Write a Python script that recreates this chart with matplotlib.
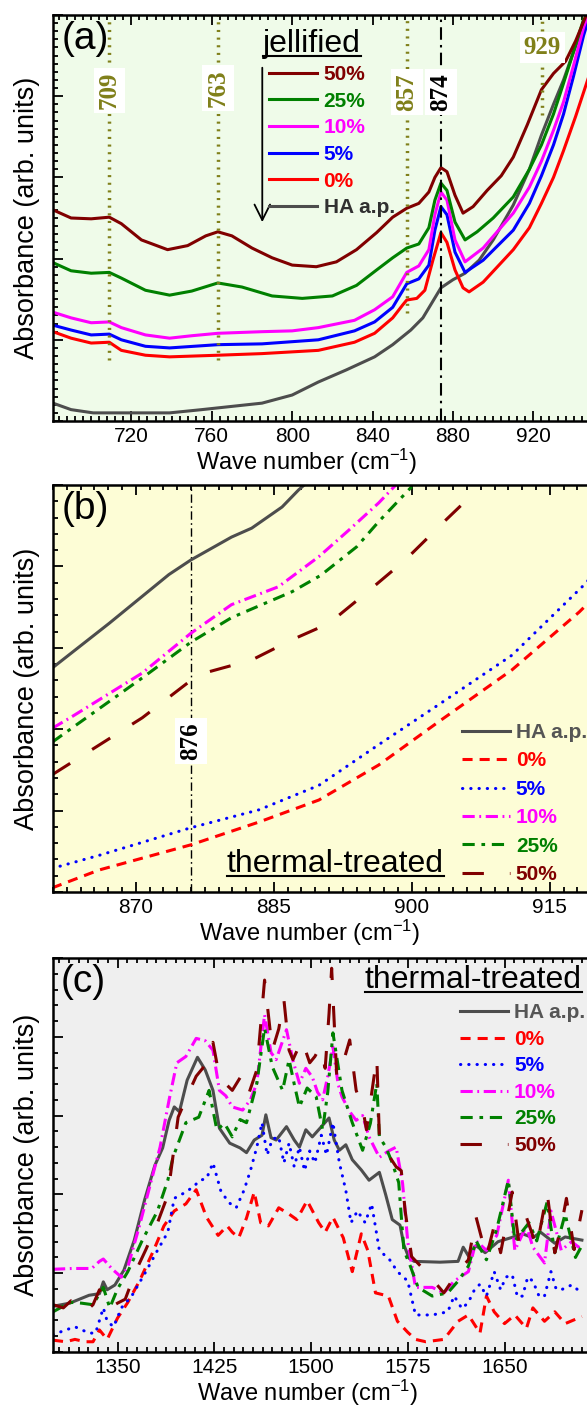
"""FTIR absorbance panels: jellified vs thermal-treated HA samples."""

import matplotlib.pyplot as plt
from matplotlib.lines import Line2D
from matplotlib.ticker import MultipleLocator

plt.rcParams["font.family"] = "Liberation Sans"
plt.rcParams["mathtext.fontset"] = "custom"
plt.rcParams["mathtext.rm"] = "Liberation Sans"
plt.rcParams["mathtext.it"] = "Liberation Sans:italic"

LABELS = ["HA a.p.", "0%", "5%", "10%", "25%", "50%"]
COLORS = ["#4d4d4d", "#ff0000", "#0000ff", "#ff00ff", "#008000", "#800000"]
OLIVE = "#80801a"

# ---- panel (a): jellified ----
a_wn_ha = [681, 690, 701, 720, 739, 755, 770, 785, 800, 813, 827, 841, 850, 859, 865, 874, 880,
           886, 893, 900, 910, 918, 924, 930, 935, 940, 945, 950]
a_abs_ha = [0.22, 0.14, 0.10, 0.10, 0.10, 0.14, 0.18, 0.22, 0.32, 0.48, 0.63, 0.79, 0.94, 1.12,
            1.27, 1.64, 1.74, 1.82, 1.98, 2.23, 2.66, 3.10, 3.52, 3.90, 4.20, 4.55, 4.88, 5.20]
a_wn_0 = [681, 690, 700, 709, 715, 727, 739, 763, 785, 813, 831, 841, 850, 855, 857, 862, 866,
          870, 874, 877, 881, 885, 888, 895, 910, 918, 924, 930, 935, 941, 947, 955]
a_abs_0 = [1.10, 1.02, 0.96, 0.97, 0.87, 0.81, 0.79, 0.81, 0.83, 0.87, 0.97, 1.08, 1.27, 1.43,
           1.49, 1.51, 1.61, 1.98, 2.32, 2.20, 1.86, 1.64, 1.59, 1.71, 2.11, 2.38, 2.68, 3.00,
           3.33, 3.75, 4.20, 4.80]
a_wn_5 = [681, 690, 700, 709, 715, 727, 739, 763, 785, 813, 831, 841, 850, 857, 863, 868, 871,
          874, 877, 881, 886, 895, 910, 918, 924, 930, 935, 940, 945, 950]
a_abs_5 = [1.18, 1.12, 1.06, 1.07, 1.00, 0.92, 0.90, 0.94, 0.95, 1.00, 1.11, 1.22, 1.40, 1.69,
           1.75, 1.92, 2.35, 2.64, 2.54, 2.08, 1.83, 1.98, 2.35, 2.68, 3.02, 3.40, 3.78, 4.25,
           4.75, 5.15]
a_wn_10 = [681, 690, 700, 709, 715, 727, 739, 750, 763, 785, 800, 813, 831, 841, 850, 857, 863,
           868, 871, 874, 877, 881, 886, 895, 910, 918, 924, 930, 935, 940, 945, 950]
a_abs_10 = [1.34, 1.27, 1.21, 1.22, 1.15, 1.06, 1.02, 1.05, 1.08, 1.10, 1.11, 1.15, 1.24, 1.37,
            1.53, 1.83, 1.91, 2.11, 2.54, 2.82, 2.72, 2.23, 1.96, 2.13, 2.56, 2.88, 3.20, 3.58,
            3.93, 4.38, 4.85, 5.20]
a_wn_25 = [681, 690, 700, 709, 715, 727, 739, 750, 763, 775, 790, 805, 820, 832, 842, 850, 857,
           863, 868, 871, 874, 877, 881, 886, 892, 900, 910, 918, 924, 930, 935, 940, 945]
a_abs_25 = [1.95, 1.85, 1.82, 1.83, 1.76, 1.61, 1.55, 1.60, 1.70, 1.65, 1.54, 1.51, 1.54, 1.67,
            1.86, 2.01, 2.13, 2.18, 2.38, 2.72, 2.93, 2.84, 2.45, 2.23, 2.33, 2.50, 2.76, 3.10,
            3.40, 3.78, 4.16, 4.55, 4.95]
a_wn_50 = [681, 690, 700, 709, 715, 725, 738, 748, 757, 763, 770, 780, 790, 800, 812, 822, 832,
           842, 850, 857, 863, 868, 871, 874, 877, 881, 885, 890, 897, 904, 910, 917, 924, 930,
           936, 941, 946]
a_abs_50 = [2.60, 2.50, 2.49, 2.51, 2.43, 2.23, 2.11, 2.16, 2.28, 2.33, 2.28, 2.13, 2.01, 1.92,
            1.90, 1.96, 2.11, 2.32, 2.51, 2.62, 2.68, 2.82, 3.00, 3.12, 3.07, 2.78, 2.56, 2.64,
            2.84, 3.02, 3.25, 3.65, 4.08, 4.28, 4.43, 4.68, 4.98]
a_peaks = [709, 763, 857]
a_peak_floor = [0.75, 0.75, 1.33]
a_peak_label_y = [4.07, 4.10, 4.05]
a_main_peak = 874
a_side_peak = 929
a_side_peak_drawn = 924.5  # where the 929 marker sits on the printed axis

# ---- panel (b): thermal-treated, 861-925 cm-1 ----
b_wn_ha = [860.9, 867.1, 873.6, 876.0, 880.4, 882.6, 885.9, 887.7, 888.8]
b_abs_ha = [2.75, 3.30, 3.90, 4.08, 4.36, 4.47, 4.73, 4.94, 5.05]
b_wn_0 = [860.9, 866.0, 876.0, 883.4, 889.9, 896.4, 902.9, 910.9, 918.2, 925.0]
b_abs_0 = [0.05, 0.27, 0.58, 0.86, 1.13, 1.56, 2.09, 2.73, 3.44, 4.20]
b_wn_5 = [860.9, 866.0, 876.0, 883.4, 889.9, 896.4, 902.9, 910.9, 918.7, 925.0]
b_abs_5 = [0.29, 0.45, 0.79, 1.01, 1.31, 1.81, 2.30, 2.91, 3.77, 4.55]
b_wn_10 = [860.9, 863.0, 870.7, 876.0, 880.4, 885.5, 889.9, 893.2, 896.4, 898.6]
b_abs_10 = [2.01, 2.15, 2.69, 3.18, 3.53, 3.75, 4.12, 4.45, 4.78, 5.04]
b_wn_25 = [860.9, 870.7, 876.0, 880.4, 887.0, 890.1, 894.0, 896.4, 900.0]
b_abs_25 = [1.84, 2.63, 3.07, 3.37, 3.69, 3.89, 4.24, 4.55, 4.98]
b_wn_50 = [860.9, 870.7, 876.8, 882.6, 887.0, 891.0, 895.0, 899.3, 903.7, 907.3]
b_abs_50 = [1.44, 2.14, 2.67, 2.85, 3.10, 3.30, 3.67, 4.08, 4.57, 4.96]
b_peak = 876

# ---- panel (c): thermal-treated, 1300-1715 cm-1 ----
c_wn_ha = [1300, 1313, 1328, 1336, 1339, 1342, 1348, 1355, 1363, 1371, 1379, 1385, 1390, 1394,
           1398, 1404, 1412, 1418, 1424, 1429, 1437, 1445, 1450, 1456, 1462, 1465, 1469, 1473,
           1481, 1487, 1491, 1496, 1501, 1507, 1514, 1518, 1522, 1527, 1532, 1539, 1545, 1553,
           1558, 1563, 1569, 1572, 1576, 1580, 1600, 1614, 1618, 1622, 1628, 1635, 1645, 1655,
           1664, 1672, 1678, 1689, 1697, 1710]
c_abs_ha = [0.58, 0.62, 0.72, 0.74, 0.89, 0.79, 0.85, 1.04, 1.42, 1.93, 2.37, 2.59, 2.94, 3.11,
            3.05, 3.45, 3.74, 3.58, 3.32, 2.84, 2.65, 2.59, 2.53, 2.69, 2.75, 3.01, 2.72, 2.69,
            2.86, 2.69, 2.60, 2.82, 2.73, 2.84, 2.97, 2.69, 2.56, 2.63, 2.44, 2.31, 2.18, 2.28,
            1.99, 1.68, 1.61, 1.36, 1.19, 1.15, 1.14, 1.15, 1.33, 1.22, 1.35, 1.26, 1.40, 1.45,
            1.50, 1.45, 1.52, 1.38, 1.46, 1.42]
c_wn_0 = [1300, 1310, 1317, 1325, 1331, 1336, 1342, 1350, 1358, 1367, 1378, 1386, 1394, 1403,
          1411, 1419, 1428, 1435, 1439, 1444, 1450, 1456, 1461, 1467, 1475, 1483, 1489, 1497,
          1506, 1511, 1517, 1525, 1532, 1539, 1544, 1550, 1560, 1567, 1575, 1581, 1589, 1603,
          1614, 1622, 1631, 1636, 1642, 1650, 1658, 1667, 1672, 1681, 1689, 1697, 1710]
c_abs_0 = [0.15, 0.13, 0.16, 0.13, 0.13, 0.28, 0.16, 0.43, 0.63, 0.90, 1.29, 1.60, 1.79, 1.88,
           2.06, 1.71, 1.48, 1.60, 1.52, 1.45, 1.70, 2.03, 1.64, 1.60, 1.83, 1.75, 1.68, 1.92,
           1.64, 1.52, 1.71, 1.45, 1.02, 1.50, 1.29, 0.75, 0.71, 0.39, 0.25, 0.16, 0.13, 0.16,
           0.39, 0.47, 0.24, 0.71, 0.51, 0.36, 0.47, 0.30, 0.56, 0.39, 0.51, 0.36, 0.45]
c_wn_5 = [1300, 1310, 1317, 1328, 1333, 1339, 1342, 1347, 1353, 1361, 1372, 1381, 1389, 1394,
          1403, 1409, 1414, 1419, 1424, 1430, 1436, 1442, 1448, 1453, 1458, 1462, 1466, 1470,
          1475, 1479, 1483, 1487, 1491, 1495, 1499, 1503, 1508, 1512, 1517, 1522, 1527, 1531,
          1536, 1542, 1547, 1553, 1561, 1567, 1575, 1581, 1594, 1606, 1611, 1617, 1622, 1627,
          1631, 1636, 1642, 1647, 1651, 1656, 1660, 1664, 1668, 1672, 1677, 1681, 1686, 1690,
          1694, 1702, 1710]
c_abs_5 = [0.22, 0.28, 0.32, 0.24, 0.24, 0.56, 0.39, 0.32, 0.56, 0.71, 1.02, 1.29, 1.52, 1.95,
           2.03, 2.10, 2.18, 2.20, 2.40, 2.05, 1.90, 1.83, 2.05, 2.30, 2.60, 2.91, 2.50, 2.70,
           2.73, 2.40, 2.65, 2.35, 2.60, 2.30, 2.55, 2.40, 2.75, 2.50, 2.91, 2.40, 2.05, 1.64,
           1.79, 1.64, 1.88, 1.29, 1.17, 1.02, 0.90, 0.47, 0.47, 0.51, 0.71, 0.55, 0.63, 0.80,
           0.86, 0.71, 1.02, 0.79, 0.95, 0.98, 0.70, 0.71, 0.95, 0.90, 0.70, 0.71, 1.02, 0.80,
           0.79, 0.85, 0.75]
c_wn_10 = [1300, 1315, 1330, 1336, 1339, 1346, 1353, 1358, 1367, 1375, 1383, 1390, 1396, 1403,
           1411, 1418, 1424, 1429, 1434, 1439, 1447, 1453, 1458, 1464, 1469, 1473, 1477, 1481,
           1486, 1491, 1496, 1501, 1505, 1509, 1513, 1517, 1521, 1524, 1530, 1535, 1540, 1545,
           1553, 1560, 1566, 1571, 1575, 1581, 1594, 1603, 1611, 1622, 1628, 1636, 1644, 1653,
           1658, 1667, 1672, 1681, 1686, 1694, 1702, 1710]
c_abs_10 = [1.05, 1.06, 1.06, 1.15, 1.18, 1.05, 0.95, 1.08, 1.60, 2.10, 2.60, 3.20, 3.67, 3.75,
            3.98, 3.95, 3.83, 3.32, 3.25, 3.11, 3.07, 3.20, 3.41, 4.28, 3.80, 3.71, 3.90, 4.09,
            3.70, 3.41, 3.60, 3.49, 3.30, 3.20, 3.50, 3.87, 3.40, 3.24, 3.05, 2.94, 3.00, 2.73,
            2.47, 2.55, 2.60, 2.14, 1.40, 0.82, 0.82, 0.75, 0.90, 1.02, 1.41, 1.29, 1.48, 2.18,
            1.29, 1.60, 1.33, 1.13, 1.79, 1.29, 1.40, 1.30]
c_wn_25 = [1300, 1310, 1314, 1322, 1331, 1339, 1344, 1350, 1358, 1369, 1381, 1389, 1393, 1403,
           1413, 1421, 1427, 1433, 1439, 1445, 1450, 1458, 1464, 1470, 1478, 1483, 1487, 1491,
           1497, 1504, 1509, 1513, 1517, 1524, 1532, 1540, 1546, 1551, 1553, 1558, 1563, 1568,
           1572, 1577, 1583, 1594, 1606, 1614, 1622, 1628, 1636, 1644, 1653, 1658, 1669, 1675,
           1683, 1689, 1697, 1705, 1710]
c_abs_25 = [0.51, 0.60, 0.63, 0.62, 0.60, 0.82, 0.56, 0.80, 1.02, 1.41, 1.79, 2.18, 2.47, 2.91,
            2.98, 3.32, 2.82, 2.90, 2.73, 2.95, 2.91, 3.41, 4.11, 3.62, 3.32, 3.71, 3.40, 3.11,
            3.35, 3.24, 2.82, 3.30, 4.05, 3.32, 2.91, 2.56, 2.90, 3.41, 2.73, 2.60, 2.40, 2.15,
            1.29, 1.09, 0.82, 0.71, 0.75, 0.90, 1.09, 1.41, 1.17, 1.56, 2.18, 1.41, 1.64, 1.41,
            1.90, 1.26, 1.75, 1.20, 1.35]
c_wn_50 = [1300, 1308, 1314, 1320, 1325, 1331, 1336, 1344, 1350, 1356, 1364, 1372, 1381, 1389,
           1397, 1406, 1411, 1416, 1420, 1424, 1429, 1434, 1439, 1445, 1451, 1458, 1464, 1470,
           1475, 1479, 1483, 1486, 1493, 1499, 1503, 1507, 1511, 1514, 1516, 1520, 1524, 1530,
           1535, 1540, 1543, 1551, 1553, 1558, 1562, 1566, 1570, 1573, 1578, 1589, 1603, 1614,
           1622, 1628, 1636, 1642, 1647, 1656, 1661, 1667, 1675, 1683, 1689, 1694, 1698, 1704,
           1710]
c_abs_50 = [0.60, 0.56, 0.65, 0.60, 0.51, 0.60, 0.79, 0.56, 0.62, 0.67, 1.02, 1.30, 1.64, 1.99,
            2.98, 3.32, 3.50, 3.60, 3.75, 3.93, 3.49, 3.40, 3.32, 3.48, 3.24, 3.58, 4.72, 3.83,
            4.10, 4.47, 3.83, 3.71, 3.96, 3.67, 3.75, 3.87, 3.60, 4.30, 4.87, 3.49, 3.62, 3.96,
            3.32, 3.10, 2.82, 3.74, 2.73, 2.60, 2.45, 2.35, 2.30, 1.79, 1.21, 1.02, 0.75, 1.02,
            1.17, 1.71, 1.21, 1.60, 1.26, 2.03, 1.41, 1.71, 1.33, 2.03, 1.26, 1.60, 1.95, 1.30,
            1.80]

# line styles for the thermal-treated panels (dash lengths in linewidths)
TT_DASHES = [None, (3.3, 2.3), (0.1, 2.6), (4, 1.5, 0.6, 1.5), (4, 2.2, 1.2, 2.2), (7, 8.5)]

FIG_W, FIG_H = 587, 1423


def style_axis(ax, face, xlim, xmajor, xminor, yminor, label_x):
    ax.set_facecolor(face)
    ax.set_xlim(*xlim)
    ax.set_ylim(0, 5)
    ax.xaxis.set_major_locator(MultipleLocator(xmajor))
    ax.xaxis.set_minor_locator(MultipleLocator(xminor))
    ax.yaxis.set_major_locator(MultipleLocator(1))
    ax.yaxis.set_minor_locator(MultipleLocator(yminor))
    ax.tick_params(which="both", direction="in", top=True, right=False,
                   labelleft=False, width=1.3, labelsize=15, pad=4)
    ax.tick_params(which="major", length=7)
    ax.tick_params(which="minor", length=3.5)
    for spine in ax.spines.values():
        spine.set_linewidth(1.8)
    ax.set_xlabel("Wave number (cm$^{-1}$)", fontsize=17, labelpad=1)
    ax.xaxis.label.set_x(label_x)
    ax.set_ylabel("Absorbance (arb. units)", fontsize=19.5, labelpad=9)


def add_axes_px(fig, left, top, bottom, width):
    return fig.add_axes([left / FIG_W, 1 - bottom / FIG_H, width / FIG_W, (bottom - top) / FIG_H])


def underline(fig, text, lw=1.5):
    renderer = fig.canvas.get_renderer()
    bb = text.get_window_extent(renderer)
    inv = fig.transFigure.inverted()
    (x0, y0), (x1, _) = inv.transform([(bb.x0, bb.y0 + 3), (bb.x1, bb.y0 + 3)])
    fig.add_artist(Line2D([x0, x1], [y0, y0], transform=fig.transFigure, color="black", lw=lw))


def plot_thermal(ax, series, spacing, **legend_kw):
    handles = []
    for (wn, ab), color, dash, label in zip(series, COLORS, TT_DASHES, LABELS):
        (line,) = ax.plot(wn, ab, color=color, lw=2.2, label=label)
        if dash is not None:
            line.set_dashes(dash)
            if dash[0] < 0.5:
                line.set_dash_capstyle("round")
        handles.append(line)
    label_colors = ["#555555"] + COLORS[1:]
    ax.legend(handles=handles, frameon=False, loc="upper left", borderpad=0, borderaxespad=0,
              handlelength=2.3, handletextpad=0.3, labelspacing=spacing,
              prop={"weight": "bold", "size": 15}, labelcolor=label_colors, **legend_kw)


fig = plt.figure(figsize=(FIG_W / 100, FIG_H / 100), dpi=100)

# ---- (a) ----
ax_a = add_axes_px(fig, 53, 15, 421, (955 - 681) * 2.01)
style_axis(ax_a, "#effbe9", (681, 955), 40, 4, 0.1, 0.46)
a_series = [(a_wn_ha, a_abs_ha), (a_wn_0, a_abs_0), (a_wn_5, a_abs_5),
            (a_wn_10, a_abs_10), (a_wn_25, a_abs_25), (a_wn_50, a_abs_50)]
a_lines = []
for (wn, ab), color, label in zip(a_series, COLORS, LABELS):
    (line,) = ax_a.plot(wn, ab, color=color, lw=2.2, label=label)
    a_lines.append(line)

ax_a.vlines(a_peaks, a_peak_floor, 5, colors=OLIVE, lw=2.5, linestyles=(0, (0.6, 1.6)))
ax_a.vlines([a_side_peak_drawn], [3.77], 5, colors=OLIVE, lw=2.5, linestyles=(0, (0.6, 1.6)))
ax_a.axvline(a_main_peak, color="black", lw=1.5, ls=(0, (6, 2.5, 1.2, 2.5)))
for wn, y in zip(a_peaks, a_peak_label_y):
    ax_a.text(wn, y, str(wn), rotation=90, ha="center", va="center", color=OLIVE,
              family="Liberation Serif", weight="bold", fontsize=18,
              bbox=dict(fc="white", ec="none", pad=3))
ax_a.text(a_main_peak, 4.05, str(a_main_peak), rotation=90, ha="center", va="center",
          color="black", family="Liberation Serif", weight="bold", fontsize=18,
          bbox=dict(fc="white", ec="none", pad=3))
ax_a.text(a_side_peak_drawn, 4.6, str(a_side_peak), ha="center", va="center", color=OLIVE,
          family="Liberation Serif", weight="bold", fontsize=18,
          bbox=dict(fc="white", ec="none", pad=3))
ax_a.text(0.015, 0.94, "(a)", transform=ax_a.transAxes, fontsize=28, ha="left", va="center")
t_jel = ax_a.text(0.47, 0.928, "jellified", transform=ax_a.transAxes, fontsize=23,
                  ha="center", va="center")
ax_a.annotate("", xy=(0.38, 0.483), xytext=(0.38, 0.877), xycoords="axes fraction",
              arrowprops=dict(arrowstyle="->", lw=1.3, mutation_scale=28, color="black"))
ax_a.legend(handles=a_lines[::-1], frameon=False, loc="upper left",
            bbox_to_anchor=(0.393, 0.877), borderpad=0, borderaxespad=0,
            handlelength=2.3, handletextpad=0.3, labelspacing=0.37,
            prop={"weight": "bold", "size": 15}, labelcolor=(COLORS[::-1][:-1] + ["#303030"]))

# ---- (b) ----
ax_b = add_axes_px(fig, 53, 485, 892, (925 - 861) * 9.2)
style_axis(ax_b, "#fdfdd6", (861, 925), 15, 1.5, 0.2, 0.435)
b_series = [(b_wn_ha, b_abs_ha), (b_wn_0, b_abs_0), (b_wn_5, b_abs_5),
            (b_wn_10, b_abs_10), (b_wn_25, b_abs_25), (b_wn_50, b_abs_50)]
ax_b.axvline(b_peak, color="black", lw=1.0, ls=(0, (6, 2.5, 1.2, 2.5)))
ax_b.text(b_peak, 1.85, str(b_peak), rotation=90, ha="center", va="center", color="black",
          family="Liberation Serif", weight="bold", fontsize=18,
          bbox=dict(fc="white", ec="none", pad=3))
plot_thermal(ax_b, b_series, 0.45, bbox_to_anchor=(0.694, 0.415))
ax_b.text(0.015, 0.94, "(b)", transform=ax_b.transAxes, fontsize=28, ha="left", va="center")
t_tb = ax_b.text(0.479, 0.068, "thermal-treated", transform=ax_b.transAxes, fontsize=23,
                 ha="center", va="center")

# ---- (c) ----
ax_c = add_axes_px(fig, 53, 958, 1352, (1715 - 1300) * 1.29)
style_axis(ax_c, "#efefef", (1300, 1715), 75, 7.5, 0.2, 0.475)
c_series = [(c_wn_ha, c_abs_ha), (c_wn_0, c_abs_0), (c_wn_5, c_abs_5),
            (c_wn_10, c_abs_10), (c_wn_25, c_abs_25), (c_wn_50, c_abs_50)]
plot_thermal(ax_c, c_series, 0.36, bbox_to_anchor=(0.76, 0.885))
ax_c.text(0.015, 0.94, "(c)", transform=ax_c.transAxes, fontsize=28, ha="left", va="center")
t_tc = ax_c.text(0.785, 0.944, "thermal-treated", transform=ax_c.transAxes, fontsize=23,
                 ha="center", va="center")

fig.canvas.draw()
for t in (t_jel, t_tb, t_tc):
    underline(fig, t)

fig.savefig("out.png", dpi=100)
